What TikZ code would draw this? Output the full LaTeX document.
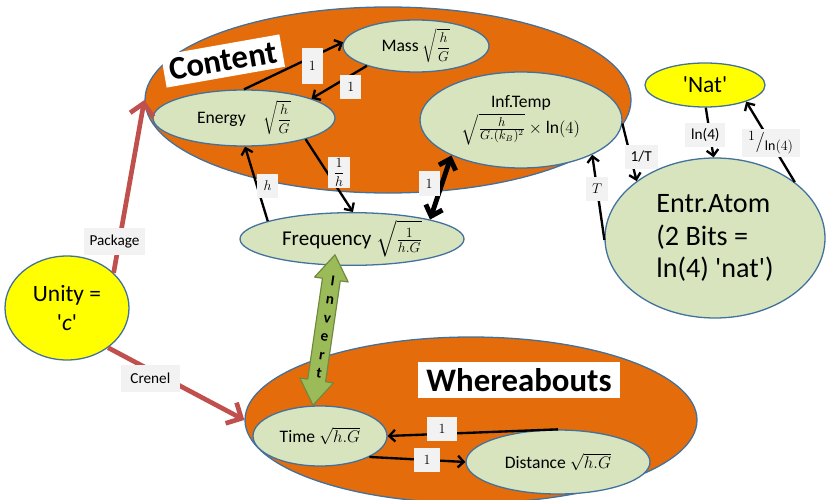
\documentclass[tikz,border=0pt]{standalone}
\usepackage{fontspec}
\setmainfont{Carlito}
\usepackage{amsmath}
\usetikzlibrary{arrows.meta,shapes.geometric}

\definecolor{orng}{HTML}{E46C0A}
\definecolor{leaf}{HTML}{D7E4BD}
\definecolor{rim}{HTML}{41719C}
\definecolor{sun}{HTML}{FFFF00}
\definecolor{brick}{HTML}{C0504D}
\definecolor{moss}{HTML}{9BBB59}
\definecolor{mossdark}{HTML}{71893F}
\definecolor{chip}{HTML}{F2F2F2}

\newcommand\sq{\textquotesingle}
% square root of a display fraction, set a little smaller than the text
\newcommand\rootfrac[2]{{\fontsize{13}{15}\selectfont$\sqrt{\dfrac{#1}{#2}}$}}

\begin{document}
\begin{tikzpicture}[x=0.03cm,y=-0.03cm,
  oval/.style 2 args={minimum width=#1*0.06cm, minimum height=#2*0.06cm},
  blob/.style={ellipse, draw=rim, line width=1.1pt, inner sep=0pt},
  zone/.style={blob, fill=orng},
  term/.style={blob, fill=leaf, font=\fontsize{15}{18}\selectfont},
  seed/.style={blob, fill=sun, font=\fontsize{20}{24}\selectfont},
  tag/.style={fill=white, inner xsep=5pt, inner ysep=2pt, font=\bfseries\fontsize{28}{32}\selectfont},
  lbl/.style={fill=chip, inner xsep=5pt, inner ysep=2pt, minimum height=21pt, minimum width=18pt,
              font=\fontsize{13}{15}\selectfont},
  link/.style={line width=2pt, -{Straight Barb[length=5pt,width=10pt]}},
  bond/.style={line width=4.2pt, {Straight Barb[length=8pt,width=15pt]}-{Straight Barb[length=8pt,width=15pt]}},
  ray/.style={line width=4pt, draw=brick, -{Straight Barb[length=10pt,width=20pt]}}
]
\useasboundingbox (0,0) rectangle (827,500);

% the two large groups
\node[zone, oval={243}{93}] (content) at (388,100) {};
\node[zone, oval={226}{83}] (where) at (471,420) {};

\node[tag, rotate=10, minimum height=28pt] (contenttag) at (223,61) {Content};
\node[tag, minimum width=173pt, minimum height=30pt] (wheretag) at (519,380) {Whereabouts};

% quantities
\node[term, oval={73}{26}] (mass) at (416,46) {Mass \rootfrac{h}{G}};
\node[term, oval={91}{28}] (energy) at (244,118) {Energy\quad\rootfrac{h}{G}};
\node[term, oval={101}{48}, align=center] (inftemp) at (521,120)
  {Inf.Temp\\[2pt]$\sqrt{\tfrac{h}{G.(k_B)^2}}\times\ln(4)$};
\node[term, oval={112}{24}, font=\fontsize{18}{21}\selectfont] (freq) at (352,239)
  {Frequency $\sqrt{\tfrac{1}{h.G}}$};
\node[term, oval={110}{80}, align=left, font=\fontsize{24}{28}\selectfont] (entr) at (715,238)
  {Entr.Atom\\(2 Bits =\\ln(4) \sq nat\sq)};
\node[term, oval={67}{30}] (time) at (320,436) {Time $\sqrt{h.G}$};
\node[term, oval={92}{32}] (dist) at (558,462) {Distance $\sqrt{h.G}$};

\node[seed, oval={60}{22}] (nat) at (705,85) {\sq Nat\sq};
\node[seed, oval={62}{52}, align=center] (unity) at (67,308) {Unity =\\\sq\textit{c}\sq};

% relations between quantities
\draw[link] (energy.90) -- node[lbl, pos=.69, yshift=-8pt, minimum height=31pt] {$1$} (mass.177);
\draw[link] (mass.202) -- node[lbl, pos=.29, yshift=-10pt] {$1$} (energy.16);
\draw[link] (freq.168) -- node[lbl, pos=.47, xshift=9pt] {$h$} (energy.-88);
\draw[link] (energy.-19) -- node[lbl, pos=.46, xshift=10pt, inner ysep=1pt] {$\dfrac{1}{h}$} (freq.88);
\draw[bond] (freq.14) -- node[lbl, pos=.56, xshift=-11pt] {$1$} (inftemp.-153);
\draw[link] (inftemp.-2) -- node[lbl, pos=.58, xshift=9pt] {1/T} (entr.144);
\draw[link] (entr.181) -- node[lbl, pos=.6] {$T$} (inftemp.-26);
\draw[link] (nat.-88) -- node[lbl, pos=.55, xshift=-4pt] {ln(4)} (entr.91);
\draw[link] (entr.35) -- node[lbl, pos=.49, font=\fontsize{17}{19}\selectfont] {$^{1}/_{\ln(4)}$} (nat.-22);
\draw[link] (dist.north) -- node[lbl, pos=.68, yshift=4pt, minimum width=26pt] {$1$} (time.east);
\draw[link] (time.-23) -- node[lbl, pos=.6, minimum width=22pt] {$1$} (dist.west);

% unity feeds both groups
\draw[ray] (unity.37) -- node[lbl, pos=.18, xshift=-4pt, minimum height=23pt] {Package} (content.west);
\draw[ray] (unity.-44) -- node[lbl, pos=.31, yshift=-7pt, minimum height=23pt, inner xsep=8pt] {Crenel} (where.west);

% invert block arrow between frequency and time
\begin{scope}[shift={(324,330)}, rotate=-8.3]
  \draw[fill=moss, draw=mossdark, line width=1pt, line join=round]
    (0,-76) -- (17,-51) -- (9,-51) -- (9,51) -- (17,51) -- (0,76)
    -- (-17,51) -- (-9,51) -- (-9,-51) -- (-17,-51) -- cycle;
\end{scope}
\node[rotate=-8.3, align=center, inner sep=0pt, font=\bfseries\fontsize{13}{15.9}\selectfont]
  (invertword) at (326,327) {I\\n\\v\\e\\r\\t};
\end{tikzpicture}
\end{document}
